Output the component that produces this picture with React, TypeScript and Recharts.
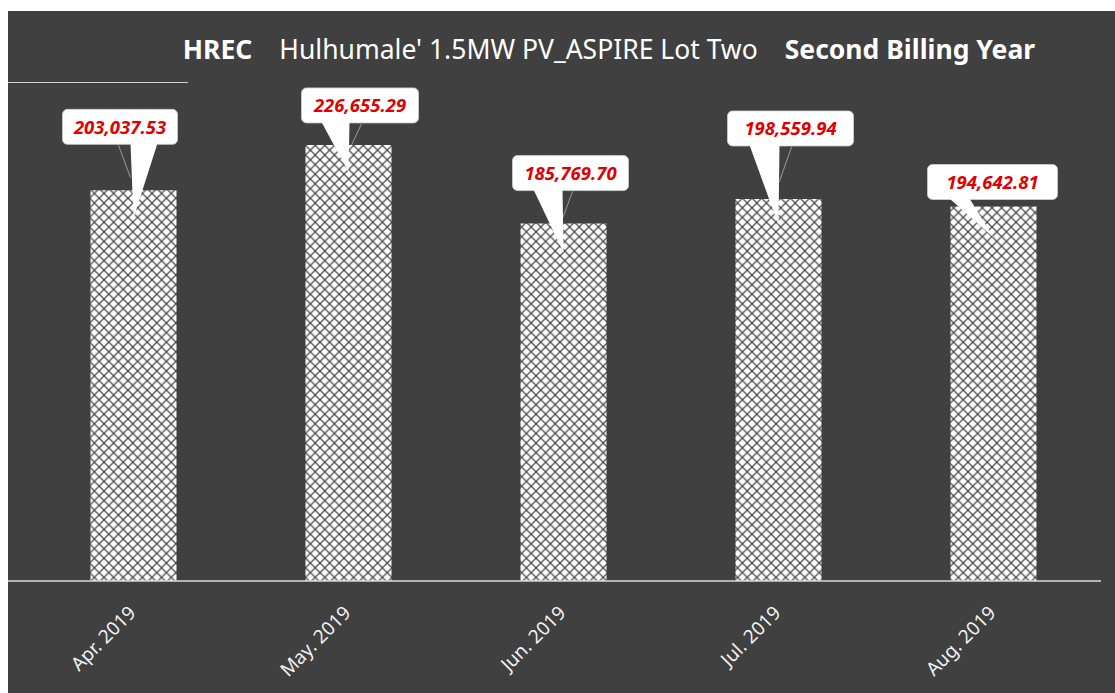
import React from "react";
import { Bar, BarChart, LabelList, XAxis, YAxis } from "recharts";

const months = ["Apr. 2019", "May. 2019", "Jun. 2019", "Jul. 2019", "Aug. 2019"];
const energy = [203037.53, 226655.29, 185769.7, 198559.94, 194642.81];

// hand placed callouts, like the original sheet
const calloutDx = [-13.5, 11.5, 7, 12, -1];
const calloutLift = [46, 22, 33, 53, 7];
const calloutWidth = [115, 117, 116, 126, 130];
const pointerBase = [
  [-3, 24],
  [-27, 1],
  [-30, -1],
  [-29, 1],
  [-44, -24],
];
const pointerDrop = [28, 27, 29, 26, 31];
const shadowLine = [
  [-15, -3],
  [13, 3],
  [9, -1],
  [13, 1],
  [0, 0],
];

const data = months.map((month, i) => ({ month, energy: energy[i] }));

const W = 1107;
const H = 682;
const FONT = "'Noto Sans', 'Open Sans', sans-serif";

const fmt = (v: number) =>
  v.toLocaleString("en-US", { minimumFractionDigits: 2, maximumFractionDigits: 2 });

function Callout(props: any) {
  const { x, y, width, value } = props;
  let index = props.index;
  if (index == null) index = energy.indexOf(Number(value));
  const cx = Number(x) + Number(width) / 2;
  const top = Number(y);
  const w = calloutWidth[index];
  const h = 35;
  const boxBottom = top - calloutLift[index];
  const boxTop = boxBottom - h;
  const boxLeft = cx + calloutDx[index] - w / 2;
  const tipY = top + pointerDrop[index];
  const [b1, b2] = pointerBase[index];
  const [s1, s2] = shadowLine[index];
  return (
    <g>
      <rect x={boxLeft} y={boxTop} width={w} height={h} rx={5} fill="#fff" stroke="#cfcfcf" strokeWidth={0.8} />
      {s1 !== s2 && (
        <line
          x1={cx + s1}
          y1={boxBottom + 1}
          x2={cx + s2}
          y2={boxBottom + (tipY - boxBottom) * 0.45}
          stroke="#9a9a9a"
          strokeWidth={1}
        />
      )}
      <polygon
        points={`${cx + b1},${boxBottom - 1} ${cx + b2},${boxBottom - 1} ${cx},${tipY}`}
        fill="#fff"
      />
      <text
        x={boxLeft + w / 2}
        y={boxTop + 24.5}
        textAnchor="middle"
        fill="#e00000"
        fontFamily={FONT}
        fontSize={18.5}
        fontWeight="bold"
        fontStyle="italic"
      >
        {fmt(Number(value))}
      </text>
    </g>
  );
}

function MonthTick(props: any) {
  const { x, y, payload } = props;
  const ax = x + 4;
  const ay = y + 33;
  return (
    <text
      x={ax}
      y={ay}
      transform={`rotate(-45, ${ax}, ${ay})`}
      textAnchor="end"
      fill="#f2f2f2"
      fontFamily={FONT}
      fontSize={19}
    >
      {payload.value}
    </text>
  );
}

export default function App() {
  return (
    <div style={{ position: "absolute", left: 8, top: 11, width: W, height: H, background: "#404040" }}>
      <BarChart width={W} height={H} data={data} margin={{ top: 89, right: 14, bottom: 0, left: 0 }} barSize={86}>
        <defs>
          <pattern id="lattice" width={9.6} height={9.6} patternUnits="userSpaceOnUse">
            <rect width={9.6} height={9.6} fill="#fdfdfd" />
            <path d="M0,0 L9.6,9.6 M9.6,0 L0,9.6" stroke="#474747" strokeWidth={1.2} />
          </pattern>
        </defs>
        <XAxis
          dataKey="month"
          height={112}
          padding={{ left: 17.5, right: 0.5 }}
          axisLine={{ stroke: "#d9d9d9", strokeWidth: 1.5 }}
          tickLine={false}
          tickSize={0}
          tickMargin={0}
          interval={0}
          tick={<MonthTick />}
        />
        <YAxis hide domain={[0, 250000]} />
        <Bar dataKey="energy" fill="url(#lattice)" isAnimationActive={false}>
          <LabelList dataKey="energy" content={<Callout />} />
        </Bar>
      </BarChart>
      <svg width={W} height={H} style={{ position: "absolute", left: 0, top: 0, pointerEvents: "none" }}>
        <line x1={0} y1={71.5} x2={180} y2={71.5} stroke="#d0d0d0" strokeWidth={1} />
        <text x={601} y={47.5} textAnchor="middle" fill="#ffffff" fontFamily={FONT} fontSize={26.5}>
          <tspan fontWeight="bold">HREC</tspan>
          <tspan dx={27}>Hulhumale' 1.5MW PV_ASPIRE Lot Two</tspan>
          <tspan dx={27} fontWeight="bold">
            Second Billing Year
          </tspan>
        </text>
      </svg>
    </div>
  );
}
